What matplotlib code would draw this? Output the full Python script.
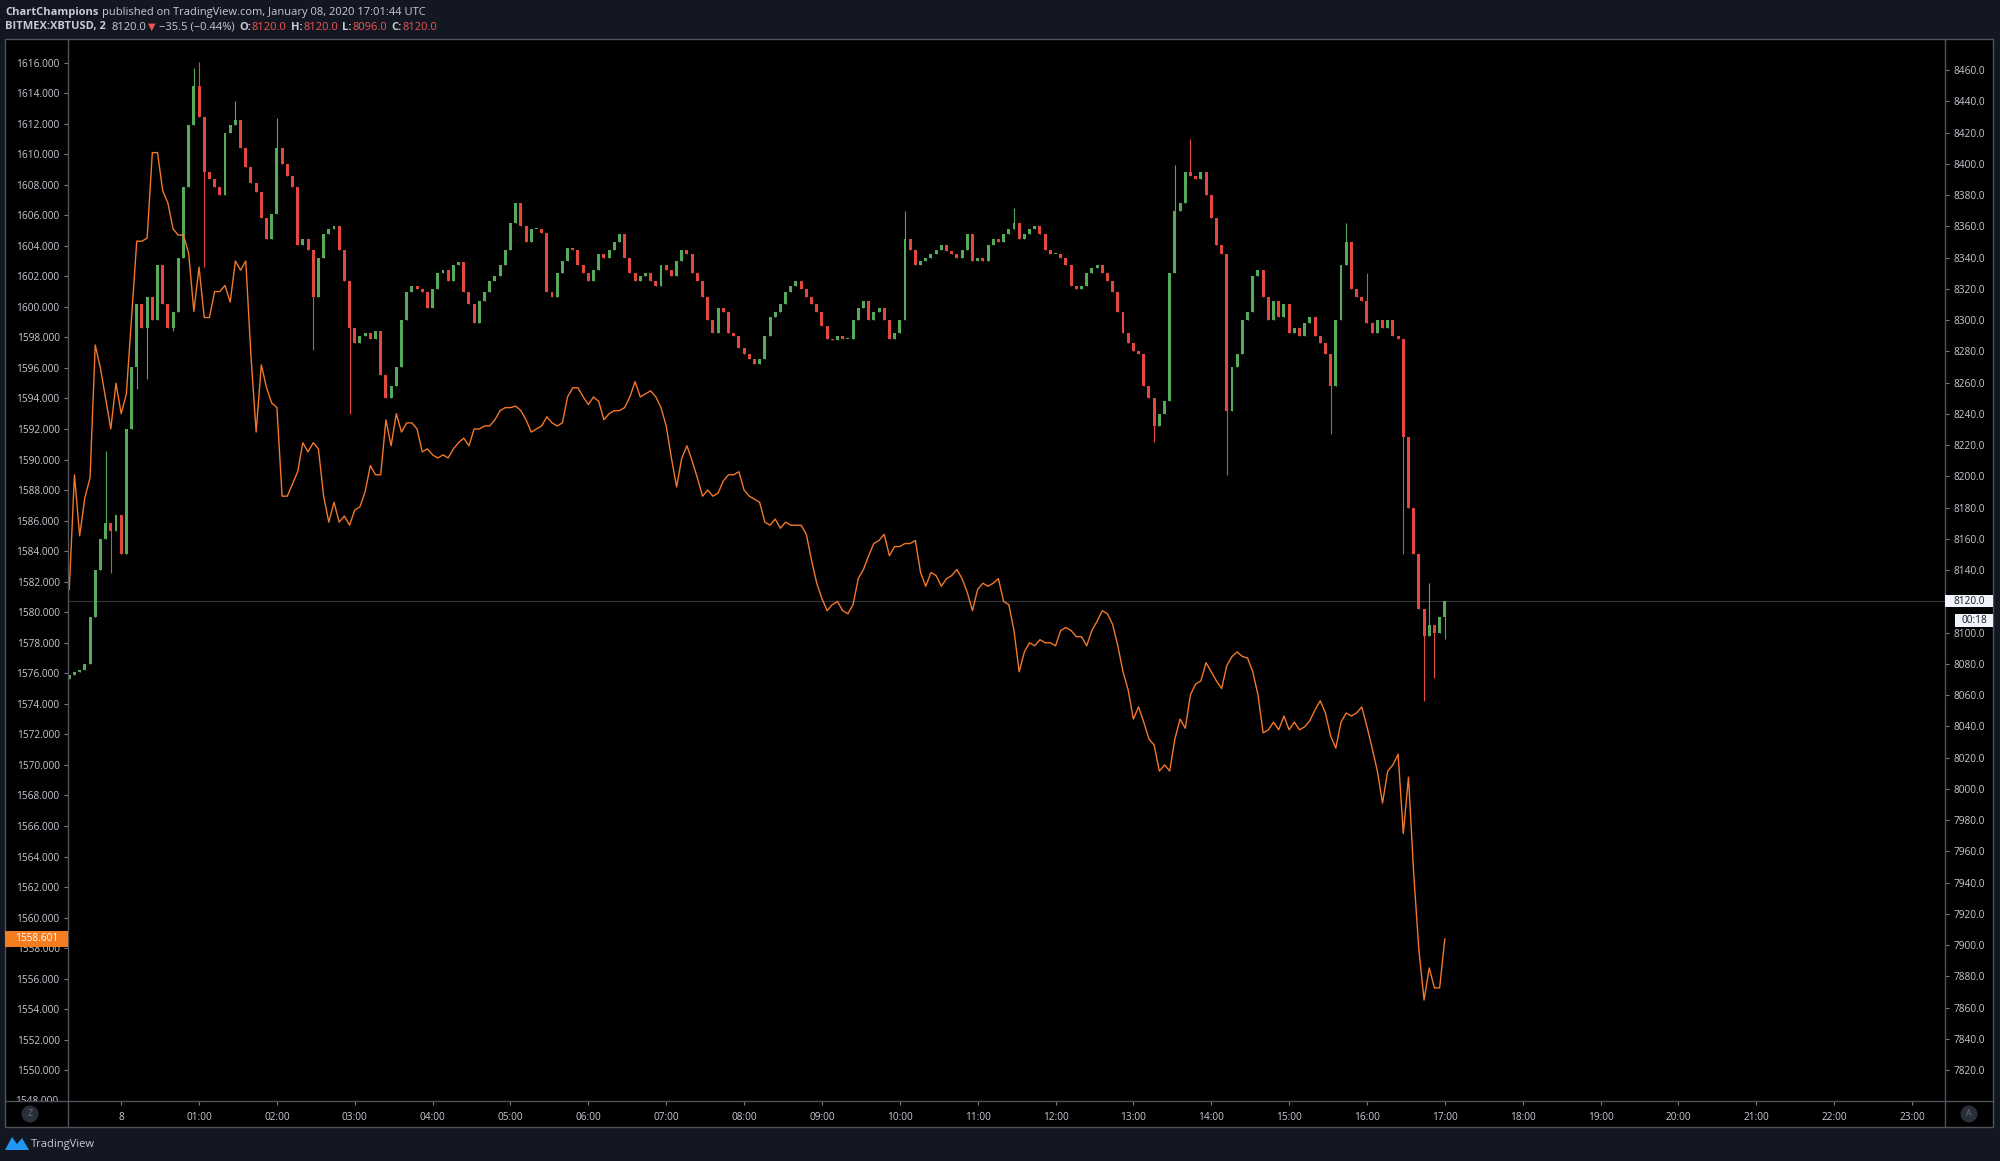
import numpy as np
import matplotlib.pyplot as plt
from matplotlib.patches import Rectangle, Circle, Polygon
from matplotlib.lines import Line2D
from matplotlib.transforms import blended_transform_factory, Bbox, TransformedBbox

plt.rcParams['font.family'] = ['Open Sans', 'DejaVu Sans']

# ---------------------------
# DATA
# ---------------------------

# 4-minute bars, minutes from 00:00 Jan 08 (first bar 23:20 the day before)
bar_minutes = list(range(-40, 1021, 4))

# BITMEX:XBTUSD closes (right scale)
btc_first_open = 8070.0
btc_close = [
    8073, 8075, 8076, 8080, 8110, 8140, 8160, 8170, 8165, 8175,                      # 23:20
    8150, 8230, 8270, 8310, 8295, 8315, 8300, 8335, 8310, 8295, 8305, 8340, 8385, 8425, 8450,  # 00
    8430, 8395, 8390, 8385, 8380, 8420, 8425, 8428, 8410, 8398, 8388, 8382, 8365, 8352, 8368,  # 01
    8410, 8400, 8392, 8385, 8348, 8352, 8345, 8315, 8340, 8355, 8358, 8360, 8345, 8325, 8295,  # 02
    8285, 8290, 8292, 8288, 8293, 8265, 8250, 8258, 8270, 8300, 8318, 8322, 8320, 8318, 8308,  # 03
    8320, 8330, 8332, 8325, 8335, 8337, 8318, 8310, 8298, 8312, 8318, 8325, 8328, 8335, 8345,  # 04
    8362, 8375, 8360, 8350, 8358, 8358, 8356, 8318, 8315, 8330, 8338, 8346, 8345, 8335, 8330,  # 05
    8325, 8332, 8342, 8340, 8345, 8350, 8355, 8340, 8330, 8325, 8328, 8330, 8325, 8322, 8335,  # 06
    8332, 8328, 8338, 8345, 8342, 8330, 8325, 8315, 8300, 8292, 8308, 8305, 8292, 8290, 8282,  # 07
    8278, 8275, 8272, 8275, 8290, 8302, 8305, 8310, 8318, 8322, 8325, 8320, 8315, 8310, 8305,  # 08
    8296, 8288, 8287, 8290, 8288, 8288, 8300, 8308, 8312, 8300, 8305, 8308, 8300, 8288, 8292,  # 09
    8300, 8352, 8345, 8335, 8338, 8340, 8342, 8345, 8348, 8344, 8342, 8340, 8345, 8355, 8338,  # 10
    8340, 8338, 8348, 8352, 8350, 8355, 8358, 8362, 8352, 8355, 8358, 8360, 8355, 8345, 8342,  # 11
    8342, 8340, 8335, 8322, 8320, 8322, 8330, 8333, 8335, 8330, 8325, 8318, 8305, 8292, 8285,  # 12
    8280, 8278, 8258, 8250, 8232, 8240, 8248, 8330, 8370, 8375, 8395, 8392, 8390, 8395, 8380,  # 13
    8365, 8348, 8342, 8242, 8270, 8278, 8300, 8305, 8328, 8332, 8315, 8300, 8312, 8302, 8310,  # 14
    8292, 8295, 8290, 8298, 8302, 8290, 8285, 8278, 8258, 8300, 8335, 8350, 8320, 8315, 8312,  # 15
    8298, 8292, 8300, 8295, 8300, 8290, 8288, 8225, 8180, 8150, 8115, 8098, 8105, 8100, 8110,  # 16
    8120,                                                                                       # 17
]

# notable wicks beyond the candle bodies
wick_high_t = [-12, 56, 60, 88, 120, 604, 688, 812, 824, 944, 960, 1008]
wick_high_v = [8216, 8461, 8465, 8440, 8429, 8370, 8372, 8399, 8416, 8362, 8330, 8132]
wick_low_t = [-8, 12, 20, 40, 64, 148, 176, 796, 852, 932, 988, 1004, 1012, 1020]
wick_low_v = [8138, 8256, 8262, 8293, 8334, 8281, 8240, 8222, 8201, 8227, 8150, 8056, 8071, 8096]

# overlay line (left scale)
gold_close = [
    1581.5, 1589.0, 1585.0, 1587.5, 1588.8, 1597.5, 1596.0, 1594.0, 1592.0, 1595.0,
    1593.0, 1594.3, 1599.3, 1604.3, 1604.3, 1604.5, 1610.1, 1610.1, 1607.6, 1606.8, 1605.1, 1604.7, 1604.7, 1603.5, 1599.7,
    1602.6, 1599.3, 1599.3, 1601.0, 1601.0, 1601.4, 1600.3, 1603.0, 1602.4, 1603.0, 1596.8, 1591.8, 1596.2, 1594.7, 1593.7,
    1593.4, 1587.6, 1587.6, 1588.4, 1589.2, 1591.1, 1590.5, 1591.1, 1590.7, 1587.6, 1585.9, 1587.2, 1585.9, 1586.3, 1585.7,
    1586.7, 1586.9, 1587.9, 1589.6, 1589.0, 1589.0, 1592.6, 1590.9, 1593.0, 1591.8, 1592.4, 1592.4, 1592.0, 1590.5, 1590.7,
    1590.3, 1590.1, 1590.3, 1590.1, 1590.7, 1591.1, 1591.4, 1590.9, 1592.0, 1592.0, 1592.2, 1592.2, 1592.6, 1593.2, 1593.4,
    1593.4, 1593.5, 1593.2, 1592.6, 1591.8, 1592.0, 1592.2, 1592.8, 1592.4, 1592.2, 1592.4, 1594.1, 1594.7, 1594.7, 1594.1,
    1593.6, 1594.1, 1593.8, 1592.6, 1593.0, 1593.2, 1593.2, 1593.4, 1594.1, 1595.1, 1594.1, 1594.3, 1594.5, 1594.1, 1593.4,
    1592.2, 1590.1, 1588.2, 1590.1, 1590.9, 1589.9, 1588.8, 1587.6, 1588.0, 1587.6, 1587.8, 1588.6, 1589.0, 1589.0, 1589.2,
    1588.0, 1587.6, 1587.4, 1587.2, 1585.9, 1585.7, 1586.1, 1585.5, 1585.9, 1585.7, 1585.7, 1585.7, 1585.1, 1583.4, 1581.9,
    1580.9, 1580.1, 1580.5, 1580.7, 1580.1, 1579.9, 1580.5, 1582.2, 1582.8, 1583.7, 1584.5, 1584.7, 1585.1, 1583.7, 1584.3,
    1584.3, 1584.5, 1584.5, 1584.7, 1582.6, 1581.7, 1582.6, 1582.4, 1581.7, 1582.2, 1582.4, 1582.8, 1582.2, 1581.3, 1580.1,
    1581.5, 1581.9, 1581.7, 1581.9, 1582.2, 1580.7, 1580.5, 1578.8, 1576.1, 1577.4, 1578.0, 1577.8, 1578.2, 1578.0, 1578.0,
    1577.8, 1578.8, 1579.0, 1578.8, 1578.4, 1578.4, 1577.8, 1578.8, 1579.4, 1580.1, 1579.9, 1579.2, 1577.8, 1576.1, 1574.9,
    1573.0, 1573.8, 1572.8, 1571.7, 1571.3, 1569.6, 1570.0, 1569.6, 1571.7, 1573.0, 1572.4, 1574.6, 1575.3, 1575.5, 1576.7,
    1576.1, 1575.5, 1575.0, 1576.5, 1577.1, 1577.4, 1577.1, 1577.0, 1576.1, 1574.6, 1572.1, 1572.3, 1572.8, 1572.3, 1573.2,
    1572.3, 1572.8, 1572.3, 1572.5, 1572.9, 1573.6, 1574.2, 1573.4, 1571.9, 1571.1, 1572.8, 1573.4, 1573.2, 1573.4, 1573.8,
    1572.5, 1571.1, 1569.6, 1567.5, 1569.6, 1570.0, 1570.7, 1565.5, 1569.2, 1562.9, 1557.9, 1554.6, 1556.7, 1555.4, 1555.4,
    1558.601,
]

last_btc = 8120.0
last_gold = 1558.601
countdown = '00:18'

hour_ticks = list(range(0, 24))
hour_labels = ['8'] + ['%02d:00' % h for h in range(1, 24)]
left_ticks = list(range(1550, 1617, 2))
right_ticks = list(range(7820, 8461, 20))

# ---------------------------
# STYLE
# ---------------------------
W, H = 2000, 1161
BG = '#131722'
LINE = '#50535c'
TXT = '#c8cbd3'
UP = '#55aa5c'
DOWN = '#e2483e'
GOLD = '#f0772b'
RED = '#ef5350'


def P(x, y):
    # pixel (from top-left) -> inches for fig.dpi_scale_trans
    return (x / 100.0, (H - y) / 100.0)


fig = plt.figure(figsize=(W / 100, H / 100), dpi=100, facecolor=BG)
px = fig.dpi_scale_trans

# chart frame
fig.add_artist(Rectangle(P(5, 1127), 19.88, 10.88, transform=px, facecolor='black',
                         edgecolor=LINE, linewidth=1, zorder=-1))

ax = fig.add_axes([68 / W, 1 - 1101 / H, (1945 - 68) / W, (1101 - 39) / H])
ax2 = ax.twinx()
ax.set_zorder(2)
ax2.set_zorder(1)
ax.patch.set_visible(False)
ax2.patch.set_visible(False)
for a in (ax, ax2):
    for s in a.spines.values():
        s.set_visible(False)

t_h = np.array(bar_minutes) / 60.0

# candles
close = np.array(btc_close, float)
opens = np.r_[btc_first_open, close[:-1]]
high = np.maximum(opens, close)
low = np.minimum(opens, close)
for t, v in zip(wick_high_t, wick_high_v):
    i = bar_minutes.index(t)
    high[i] = max(high[i], v)
for t, v in zip(wick_low_t, wick_low_v):
    i = bar_minutes.index(t)
    low[i] = min(low[i], v)
cols = np.where(close >= opens, UP, DOWN)

ax2.axhline(last_btc, color='#33363d', linewidth=0.8, zorder=1)
ax2.vlines(t_h, low, high, colors=cols, linewidth=0.8, zorder=2)
ax2.bar(t_h, np.maximum(np.abs(close - opens), 0.8), bottom=np.minimum(opens, close),
        width=0.038, color=cols, linewidth=0, zorder=3)

# overlay line
ax.plot(t_h, gold_close, color=GOLD, linewidth=1.0, zorder=3)

ax.set_xlim(-0.683, 23.424)
ax.set_ylim(1547.99, 1617.54)
ax2.set_ylim(7800.2, 8479.84)

ax.set_xticks(hour_ticks)
ax.set_xticklabels(hour_labels)
ax.set_yticks(left_ticks)
ax.set_yticklabels(['%.3f' % v for v in left_ticks])
ax2.set_yticks(right_ticks)
ax2.set_yticklabels(['%.1f' % v for v in right_ticks])

ax.tick_params(axis='x', direction='out', length=3, width=0.8, color='#787b86',
               labelcolor=TXT, labelsize=7.3, pad=5)
ax.tick_params(axis='y', direction='out', length=3, width=0.8, color='#787b86',
               labelcolor=TXT, labelsize=7.3, pad=3)
ax2.tick_params(axis='y', direction='out', length=3, width=0.8, color='#787b86',
                labelcolor=TXT, labelsize=7.3, pad=3)

# half-hidden bottom label of the left scale
lbl = fig.text(*P(58, 1101), '1548.000', transform=px, ha='right', va='center',
               color=TXT, fontsize=7.3)
lbl.set_clip_box(TransformedBbox(Bbox.from_extents(0, (H - 1101) / 100.0, 20, 12), px))
lbl.set_clip_on(True)

# pane separators
for (x0, y0, x1, y1) in [(5, 1101, 1993, 1101), (68, 39, 68, 1127), (1945, 39, 1945, 1127)]:
    a0, b0 = P(x0, y0)
    a1, b1 = P(x1, y1)
    fig.add_artist(Line2D([a0, a1], [b0, b1], transform=px, color=LINE, linewidth=1, zorder=3))

# last value labels
lt = blended_transform_factory(px, ax.transData)
rt = blended_transform_factory(px, ax2.transData)
fig.add_artist(Rectangle((5 / 100, last_gold - 0.51), 0.63, 1.02, transform=lt,
                         facecolor='#f57c1f', edgecolor='none', zorder=5))
fig.text(58 / 100, last_gold, '%.3f' % last_gold, transform=lt, ha='right', va='center',
         color='white', fontsize=7.3, zorder=6)
fig.add_artist(Rectangle((1945 / 100, last_btc - 3.9), 0.48, 7.8, transform=rt,
                         facecolor='#f0f3fa', edgecolor='none', zorder=5))
fig.text(1953 / 100, last_btc, '%.1f' % last_btc, transform=rt, ha='left', va='center',
         color='#131722', fontsize=7.3, zorder=6)
cd_v = 8460 - (620.5 - 70) / 1.5625
fig.add_artist(Rectangle((1955 / 100, cd_v - 3.9), 0.38, 7.8, transform=rt,
                         facecolor='#f0f3fa', edgecolor='none', zorder=5))
fig.text(1974 / 100, cd_v, countdown, transform=rt, ha='center', va='center',
         color='#131722', fontsize=7.3, zorder=6)

# corner buttons
for (cx, letter) in [(30, 'Z'), (1969, 'A')]:
    fig.add_artist(Circle(P(cx, 1114), 0.085, transform=px, facecolor='#2a2e39',
                          edgecolor='none', zorder=4))
    fig.text(*P(cx, 1114), letter, transform=px, ha='center', va='center',
             color='#6a6d78', fontsize=6.5, zorder=5)

# header
r = fig.canvas.get_renderer()


def chain(pieces, x, y):
    for s, color, weight, size, gap in pieces:
        t = fig.text(*P(x, y), s, transform=px, color=color, fontsize=size,
                     fontweight=weight, ha='left', va='baseline')
        x = t.get_window_extent(r).x1 + gap


chain([('ChartChampions', TXT, 'bold', 8, 4),
       ('published on TradingView.com, January 08, 2020 17:01:44 UTC', TXT, 'normal', 8, 0)],
      5, 15)
chain([('BITMEX:XBTUSD, 2', TXT, 'bold', 8, 6),
       ('8120.0', TXT, 'normal', 8, 1),
       ('\u25bc', RED, 'normal', 7, 4),
       ('\u221235.5 (\u22120.44%)', TXT, 'normal', 8, 4),
       ('O:', TXT, 'bold', 8, 1), ('8120.0', RED, 'normal', 8, 4),
       ('H:', TXT, 'bold', 8, 1), ('8120.0', RED, 'normal', 8, 4),
       ('L:', TXT, 'bold', 8, 1), ('8096.0', RED, 'normal', 8, 4),
       ('C:', TXT, 'bold', 8, 1), ('8120.0', RED, 'normal', 8, 0)],
      5, 29.5)

# footer logo
fig.add_artist(Polygon([P(5, 1150), P(12, 1137), P(17, 1144), P(22, 1138), P(29, 1150)],
                       closed=True, transform=px, facecolor='#2196f3', edgecolor='none'))
fig.text(*P(31, 1144), 'TradingView', transform=px, ha='left', va='center',
         color=TXT, fontsize=8)

fig.savefig('out.png', dpi=100, facecolor=BG)
